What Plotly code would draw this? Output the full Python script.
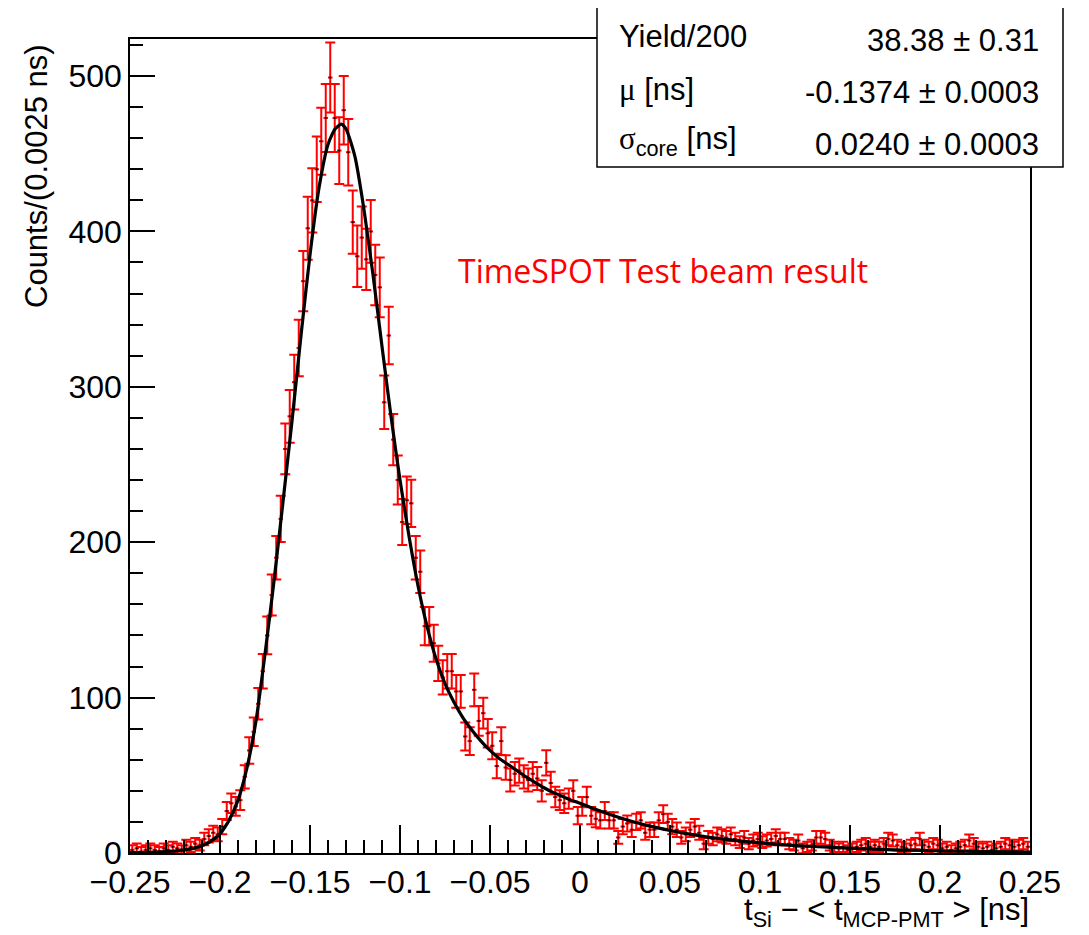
import numpy as np
import plotly.graph_objects as go

# ---------------- data ----------------
bin_lo, bin_hi, n_bins = -0.25, 0.25, 200
bin_width = (bin_hi - bin_lo) / n_bins

counts = [
    2, 3, 1, 2, 3, 2, 1, 3, 2, 4,            # 0-9
    3, 2, 5, 4, 6, 5, 9, 11, 13, 12,         # 10-19
    17, 27, 32, 30, 34, 49, 66, 78, 96, 117, # 20-29
    140, 166, 190, 215, 260, 281, 303, 325, 368, 402,  # 30-39
    420, 440, 458, 473, 499, 473, 452, 478, 451, 406,  # 40-49
    384, 396, 382, 400, 372, 364, 290, 333, 266, 240,  # 50-59
    213, 227, 225, 190, 181, 146, 146, 135, 122, 113,  # 60-69
    117, 117, 104, 104, 75, 72, 105, 85, 90, 77,       # 70-79
    69, 56, 72, 55, 47, 51, 53, 49, 47, 51,            # 80-89
    48, 40, 58, 45, 36, 34, 32, 35, 40, 24,            # 90-99
    30, 36, 24, 22, 21, 27, 21, 21, 10, 17,            # 100-109
    19, 15, 20, 21, 13, 15, 15, 21, 25, 20,            # 110-119
    17, 15, 10, 12, 15, 17, 13, 6, 10, 9,              # 120-129
    12, 11, 10, 12, 9, 7, 10, 6, 8, 9,                 # 130-139
    7, 8, 9, 11, 9, 9, 6, 5, 8, 3,                     # 140-149
    4, 5, 10, 10, 9, 5, 4, 3, 4, 2,                    # 150-159
    3, 4, 5, 6, 4, 5, 4, 6, 9, 8,                      # 160-169
    5, 4, 3, 5, 6, 9, 5, 4, 6, 5,                      # 170-179
    3, 4, 2, 3, 4, 5, 8, 6, 4, 3,                      # 180-189
    4, 2, 3, 4, 6, 5, 4, 5, 6, 4,                      # 190-199
]

fit_x = [-0.250, -0.240, -0.230, -0.225, -0.220, -0.215, -0.210, -0.205, -0.200,
         -0.195, -0.190, -0.185, -0.180, -0.175, -0.170, -0.165, -0.160, -0.155,
         -0.150, -0.145, -0.140, -0.136, -0.1326, -0.130, -0.125, -0.120, -0.115,
         -0.110, -0.105, -0.100, -0.095, -0.090, -0.085, -0.080, -0.075, -0.070,
         -0.065, -0.060, -0.055, -0.050, -0.045, -0.040, -0.035, -0.030, -0.025,
         -0.020, -0.015, -0.010, -0.005, 0.000, 0.010, 0.020, 0.030, 0.040, 0.050,
         0.060, 0.070, 0.080, 0.090, 0.100, 0.120, 0.140, 0.160, 0.180, 0.200,
         0.225, 0.250]
fit_y = [0.2, 0.4, 0.9, 1.3, 2.0, 3.0, 4.6, 7.6, 12.5,
         21, 34, 55, 85, 128, 175, 226, 278, 333,
         385, 428, 456, 466, 469, 466, 448, 414, 372,
         326, 281, 240, 204, 172, 146, 125, 109, 97,
         87, 79, 72, 66, 61, 57, 53, 49, 45.5,
         42, 39, 36.5, 34, 32, 27.5, 23.5, 20, 17, 14.5,
         12.3, 10.4, 8.9, 7.6, 6.5, 4.8, 3.6, 2.6, 1.9, 1.4,
         0.9, 0.6]

x_tickvals = [-0.25, -0.2, -0.15, -0.1, -0.05, 0, 0.05, 0.1, 0.15, 0.2, 0.25]
x_ticktext = ["\u22120.25", "\u22120.2", "\u22120.15", "\u22120.1", "\u22120.05",
              "0", "0.05", "0.1", "0.15", "0.2", "0.25"]
y_tickvals = [0, 100, 200, 300, 400, 500]
y_ticktext = ["0", "100", "200", "300", "400", "500"]

SERIF = "'Liberation Serif', 'DejaVu Serif', serif"
stat_names = ["Yield/200",
              "<span style=\"font-family:" + SERIF + "\">\u03bc</span> [ns]",
              "<span style=\"font-family:" + SERIF + "\">\u03c3</span><sub>core</sub> [ns]"]
stat_values = ["38.38 \u00b1 0.31", "-0.1374 \u00b1 0.0003", "0.0240 \u00b1 0.0003"]

# ---------------- derived ----------------
counts_arr = np.array(counts, dtype=float)
centers = bin_lo + bin_width * (np.arange(n_bins) + 0.5)
errors = np.sqrt(counts_arr + 7.0)

# ---------------- geometry (page has an 8 px body margin) ----------------
OFF = 8
W, H = 1089 - OFF, 935 - OFF
# plot frame in reference-picture pixels
RL, RR, RT, RB = 130, 1030, 39, 853
L, R, T, B = RL - OFF, RR - OFF, RT - OFF, RB - OFF
pw, ph = R - L, B - T


def px(xp):
    return (xp - RL) / pw


def py(yp):
    return (RB - yp) / ph


FONT = "Liberation Sans, Arial, Helvetica, sans-serif"

fig = go.Figure()
fig.add_trace(go.Scatter(
    x=centers, y=counts_arr, mode="markers",
    marker=dict(color="black", size=2),
    error_y=dict(type="data", array=errors, visible=True, color="#ff0000",
                 thickness=2, width=5),
    error_x=dict(type="constant", value=bin_width / 2, visible=True,
                 color="#ff0000", thickness=2, width=0),
    showlegend=False, hoverinfo="skip",
))
fig.add_trace(go.Scatter(
    x=fit_x, y=fit_y, mode="lines",
    line=dict(color="black", width=3.2, shape="spline", smoothing=0.6),
    showlegend=False, hoverinfo="skip",
))

axis_common = dict(showgrid=False, zeroline=False, showline=True, mirror=True,
                   linecolor="black", linewidth=1.5, ticks="inside",
                   tickcolor="black", tickwidth=1.5,
                   tickfont=dict(family=FONT, size=32, color="black"))

fig.update_xaxes(range=[bin_lo, bin_hi], tickmode="array", tickvals=x_tickvals,
                 ticktext=x_ticktext, ticklen=28,
                 minor=dict(tickmode="linear", tick0=0, dtick=0.01, ticklen=13,
                            ticks="inside", tickcolor="black", tickwidth=1.5),
                 **axis_common)
fig.update_yaxes(range=[0, (RB - RT) / 1.554], tickmode="array", tickvals=y_tickvals,
                 ticktext=y_ticktext, ticklen=25,
                 minor=dict(tickmode="linear", tick0=0, dtick=20, ticklen=13,
                            ticks="inside", tickcolor="black", tickwidth=1.5),
                 **axis_common)

annotations = []
# y-axis title
annotations.append(dict(text="Counts/(0.0025 ns)", xref="paper", yref="paper",
                        x=px(36), y=py(42), xanchor="center", yanchor="top",
                        textangle=-90, showarrow=False,
                        font=dict(family=FONT, size=31, color="black")))
# x-axis title
annotations.append(dict(text="t<sub>Si</sub> \u2212 < t<sub>MCP-PMT</sub> > [ns]",
                        xref="paper", yref="paper", x=px(1031), y=py(912),
                        xanchor="right", yanchor="middle", showarrow=False,
                        font=dict(family=FONT, size=31, color="black")))
# red label
annotations.append(dict(text="TimeSPOT Test beam result", xref="paper", yref="paper",
                        x=px(663), y=py(270), xanchor="center", yanchor="middle",
                        showarrow=False,
                        font=dict(family="Open Sans, sans-serif", size=32,
                                  color="#ff0000")))
# stats box texts
row_y = [37, 89, 141]
for name, val, yy in zip(stat_names, stat_values, row_y):
    annotations.append(dict(text=name, xref="paper", yref="paper", x=px(617),
                            y=py(yy), xanchor="left", yanchor="middle",
                            showarrow=False,
                            font=dict(family=FONT, size=31, color="black")))
    annotations.append(dict(text=val, xref="paper", yref="paper", x=px(1041),
                            y=py(yy + 3), xanchor="right", yanchor="middle",
                            showarrow=False,
                            font=dict(family=FONT, size=31, color="black")))

shapes = [dict(type="rect", xref="paper", yref="paper", x0=px(597), x1=px(1063),
               y0=py(167), y1=py(4), fillcolor="white",
               line=dict(color="black", width=1.5), layer="above")]

fig.update_layout(width=W, height=H, autosize=False,
                  margin=dict(l=L, r=W - R, t=T, b=H - B, pad=0),
                  paper_bgcolor="white", plot_bgcolor="white",
                  annotations=annotations, shapes=shapes,
                  font=dict(family=FONT, color="black"))

fig.write_html("out.html")
